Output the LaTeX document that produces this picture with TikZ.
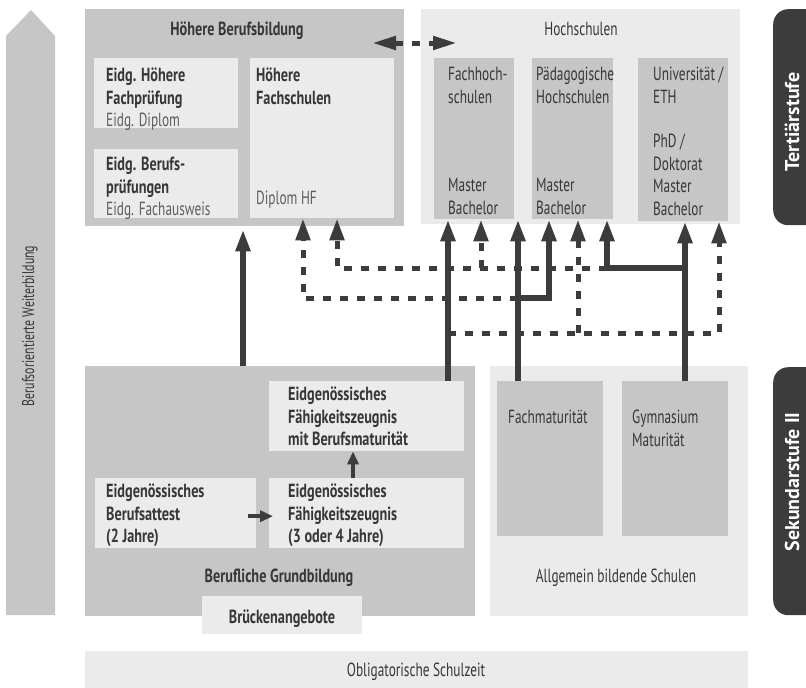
\documentclass[tikz,border=0pt]{standalone}
\usepackage{fontspec}
\setmainfont{PT Sans}[FakeStretch=0.70, BoldFeatures={FakeStretch=0.75}]
\newfontfamily\pillfont{PT Sans}
\usetikzlibrary{arrows.meta, positioning, calc}
\definecolor{midgray}{RGB}{198, 198, 198}
\definecolor{palegray}{RGB}{235, 235, 235}
\definecolor{darkline}{RGB}{60, 60, 60}
\definecolor{textgray}{RGB}{55, 55, 55}
\definecolor{subgray}{RGB}{95, 95, 95}
\newcommand{\diagfont}{\fontsize{19}{22.5}\selectfont}
\tikzset{
  midbox/.style={fill=midgray, inner sep=0pt, anchor=north west},
  palebox/.style={fill=palegray, inner sep=0pt, anchor=north west},
  pill/.style={fill=darkline, rounded corners=15pt, inner sep=0pt, anchor=north west},
  bodytext/.style={font=\diagfont, text=textgray, inner sep=0pt, align=left, anchor=north west},
  boldtext/.style={bodytext, font=\diagfont\bfseries},
  titletext/.style={font=\diagfont, text=textgray, inner sep=0pt, anchor=base},
  pilltext/.style={font=\pillfont\fontsize{20}{24}\selectfont\bfseries, text=white, inner sep=0pt, rotate=90},
  solidarrow/.style={draw=darkline, line width=5.5pt, -{Triangle[length=22pt, width=14pt]}},
  dasharrow/.style={draw=darkline, line width=5pt, dash pattern=on 8pt off 9pt, -{Triangle[length=22pt, width=14pt]}},
  smallarrow/.style={draw=darkline, line width=4.5pt, -{Triangle[length=13pt, width=11pt]}}
}
\begin{document}
\begin{tikzpicture}[x=1pt, y=-1pt]
    \useasboundingbox (0,0) rectangle (806,688);

    % --- WEITERBILDUNG (left arrow) ---
    \fill[midgray] (6,615) -- (6,36) -- (31,10) -- (55,36) -- (55,615) -- cycle;
    \node[bodytext, anchor=center, rotate=90, font=\fontsize{17}{20}\selectfont] (weiterT) at (30,326) {Berufsorientierte Weiterbildung};

    % --- TERTIAERSTUFE ---
    \node[midbox, minimum width=319, minimum height=217] (hbb) at (85,9) {};
    \node[titletext, font=\diagfont\bfseries] (hbbT) at (237,35) {Höhere Berufsbildung};
    \node[palebox, minimum width=144, minimum height=70] (hfp) at (94,58) {};
    \node[bodytext] (hfpT) at (106,68) {\textbf{Eidg. Höhere}\\\textbf{Fachprüfung}\\\textcolor{subgray}{Eidg. Diplom}};
    \node[palebox, minimum width=144, minimum height=69] (bp) at (94,149) {};
    \node[bodytext] (bpT) at (106,157) {\textbf{Eidg. Berufs-}\\\textbf{prüfungen}\\\textcolor{subgray}{Eidg. Fachausweis}};
    \node[palebox, minimum width=144, minimum height=160] (hf) at (250,58) {};
    \node[boldtext] (hfT) at (256,68) {Höhere\\Fachschulen};
    \node[bodytext, text=subgray] (hfD) at (256,191) {Diplom HF};

    \node[palebox, minimum width=319, minimum height=215] (hs) at (421,9) {};
    \node[titletext] (hsT) at (581,35) {Hochschulen};
    \node[midbox, minimum width=80, minimum height=161] (fh) at (434,58) {};
    \node[bodytext] (fhT) at (448,67) {Fachhoch-\\schulen};
    \node[bodytext] (fhD) at (448,178) {Master\\Bachelor};
    \node[midbox, minimum width=81, minimum height=161] (ph) at (532,58) {};
    \node[bodytext] (phT) at (536,67) {Pädagogische\\Hochschulen};
    \node[bodytext] (phD) at (536,178) {Master\\Bachelor};
    \node[midbox, minimum width=90, minimum height=163] (uni) at (638,58) {};
    \node[bodytext] (uniT) at (653,67) {Universität /\\ETH};
    \node[bodytext] (uniD) at (653,134) {PhD /\\Doktorat\\Master\\Bachelor};

    % Link between the two tertiary blocks
    \coordinate (linkL) at (372,43);
    \coordinate (linkR) at (457,43);
    \draw[draw=darkline, line width=5pt, dash pattern=on 8pt off 9pt, {Triangle[length=24pt, width=13pt]}-{Triangle[length=24pt, width=13pt]}] (linkL) -- (linkR);

    \node[pill, minimum width=60, minimum height=216] (tert) at (773,9) {};
    \node[pilltext] (tertT) at (792,122) {Tertiärstufe};

    % --- SEKUNDARSTUFE II ---
    \node[midbox, minimum width=390, minimum height=250] (bg) at (85,366) {};
    \node[palebox, minimum width=195, minimum height=70] (bm) at (269,381) {};
    \node[boldtext] (bmT) at (288,387) {Eidgenössisches\\Fähigkeitszeugnis\\mit Berufsmaturität};
    \node[palebox, minimum width=161, minimum height=70] (eba) at (95,478) {};
    \node[boldtext] (ebaT) at (106,484) {Eidgenössisches\\Berufsattest\\(2 Jahre)};
    \node[palebox, minimum width=195, minimum height=70] (efz) at (269,478) {};
    \node[boldtext] (efzT) at (288,484) {Eidgenössisches\\Fähigkeitszeugnis\\(3 oder 4 Jahre)};
    \node[titletext, font=\diagfont\bfseries] (bgT) at (279,582) {Berufliche Grundbildung};
    \node[palebox, minimum width=160, minimum height=38] (brk) at (202,596) {};
    \node[titletext, font=\diagfont\bfseries] (brkT) at (282,623) {Brückenangebote};

    \node[palebox, minimum width=258, minimum height=250] (abs) at (490,366) {};
    \node[midbox, minimum width=106, minimum height=155] (fm) at (497,381) {};
    \node[bodytext] (fmT) at (508,410) {Fachmaturität};
    \node[midbox, minimum width=106, minimum height=155] (gym) at (622,381) {};
    \node[bodytext] (gymT) at (632,410) {Gymnasium\\Maturität};
    \node[titletext] (absT) at (616,582) {Allgemein bildende Schulen};

    \node[pill, minimum width=60, minimum height=248] (sek) at (773,367) {};
    \node[pilltext] (sekT) at (792,482) {Sekundarstufe II};

    % --- OBLIGATORISCHE SCHULZEIT ---
    \node[palebox, minimum width=663, minimum height=37] (obl) at (85,651) {};
    \node[titletext] (oblT) at (416,676) {Obligatorische Schulzeit};

    % --- CONNECTORS ---
    \foreach \n/\x in {colBG/243, colHFa/303, colHFb/337, colBM/448, colFHd/481, colFM/518,
                       colPHa/549, colPHd/578, colPHb/607, colGY/685, colUNd/719, colEFZ/353}
        \coordinate (\n) at (\x,0);
    \coordinate (rowA) at (0,268);
    \coordinate (rowB) at (0,298);
    \coordinate (rowC) at (0,333);

    % dashed routes first
    \draw[dasharrow] (rowB -| colFM) -- (rowB -| colHFa) -- (hf.south -| colHFa);
    \draw[dasharrow] (rowA -| colPHb) -- (rowA -| colHFb) -- (hf.south -| colHFb);
    \draw[dasharrow] (rowA -| colFHd) -- (fh.south -| colFHd);
    \draw[dasharrow] (rowC -| colBM) -- (rowC -| colUNd) -- (uni.south -| colUNd);
    \draw[dasharrow] (rowC -| colPHd) -- (ph.south -| colPHd);

    % solid routes
    \draw[solidarrow, shorten >=3pt] (bg.north -| colBG) -- (hbb.south -| colBG);
    \draw[solidarrow] (bm.north -| colBM) -- (fh.south -| colBM);
    \draw[solidarrow] (fm.north -| colFM) -- (fh.south -| colFM);
    \draw[solidarrow] (rowB -| colFM) -- (rowB -| colPHa) -- (ph.south -| colPHa);
    \draw[solidarrow] (gym.north -| colGY) -- (uni.south -| colGY);
    \draw[solidarrow] (rowA -| colGY) -- (rowA -| colPHb) -- (ph.south -| colPHb);

    % inside Berufliche Grundbildung
    \draw[smallarrow, shorten <=-8pt, shorten >=-4pt] ([yshift=-3pt]eba.east) -- ([yshift=-3pt]efz.west);
    \draw[smallarrow] (efz.north -| colEFZ) -- (bm.south -| colEFZ);
\end{tikzpicture}
\end{document}
